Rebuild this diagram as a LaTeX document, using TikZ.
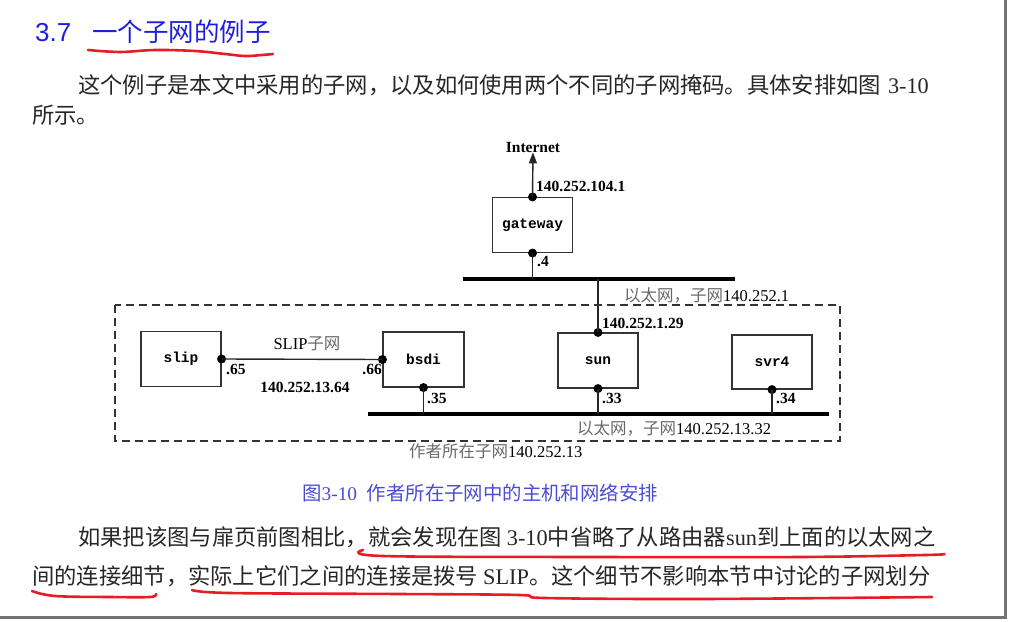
\documentclass[tikz,border=0pt]{standalone}
\usepackage{fontspec}
\setmainfont{Liberation Serif}
\newfontfamily\cjk{Noto Sans CJK SC}
\newfontfamily\hostmono{Liberation Mono}
\newfontfamily\headsans{Liberation Sans}
\usetikzlibrary{arrows.meta}
\definecolor{headblue}{RGB}{30,30,225}
\definecolor{capblue}{RGB}{75,75,215}
\definecolor{markred}{RGB}{232,28,36}
\definecolor{labelgray}{RGB}{105,105,105}
\newcommand\cjkgray[1]{{\cjk\color{labelgray}#1}}
\newcommand\lat[1]{{\rmfamily #1}}
\tikzset{
  hostbox/.style={draw=black!80, line width=1.1pt, minimum width=80pt, minimum height=55pt, inner sep=0pt, font=\hostmono\bfseries\fontsize{14.5}{16}\selectfont},
  port/.style={circle, fill=black, inner sep=0pt, minimum size=9pt},
  wire/.style={line width=1.4pt, draw=black!85},
  ether/.style={line width=3.5pt, draw=black, line cap=butt},
  addr/.style={inner sep=0pt, font=\bfseries\fontsize{15.5}{18}\selectfont},
  netlabel/.style={inner sep=0pt, font=\fontsize{16.5}{19}\selectfont},
  boundary/.style={draw=black!80, line width=1.1pt, dash pattern=on 8pt off 5pt},
  bodytext/.style={inner sep=0pt, anchor=west, text=black!85, font=\cjk\fontsize{22.3}{26}\selectfont},
  marker/.style={draw=markred, line width=2.6pt, line cap=round, line join=round},
  pageedge/.style={draw=black!55, line width=3pt},
}

\begin{document}
\begin{tikzpicture}[x=1pt, y=-1pt]
\useasboundingbox (0,0) rectangle (1009,621);
\node[inner sep=0pt, anchor=west, text=headblue, font=\headsans\fontsize{26}{30}\selectfont] (secnum) at (35,33) {3.7};
\node[inner sep=0pt, anchor=west, text=headblue, font=\cjk\fontsize{25.5}{30}\selectfont] (sectitle) at (92,32) {一个子网的例子};
\draw[marker] plot[smooth, tension=0.6] coordinates {(88,50) (120,52) (155,50) (195,51) (225,54) (245,56) (262,55) (273,54)};
\node[bodytext] (introa) at (78,85) {这个例子是本文中采用的子网，以及如何使用两个不同的子网掩码。具体安排如图\hspace{7pt}\lat{3-10}};
\node[bodytext] (introb) at (32,115) {所示。};
\node[hostbox] (gateway) at (532.5,225) {gateway};
\node[hostbox] (slip) at (181,359) {slip};
\node[hostbox, minimum width=81pt] (bsdi) at (423.5,359.5) {bsdi};
\node[hostbox] (sun) at (598,360.5) {sun};
\node[hostbox, minimum height=54pt] (svr4) at (772,362) {svr4};
\node[port] (gwN) at (gateway.north) {};
\node[port] (gwS) at (gateway.south) {};
\node[port] (slipE) at (slip.east) {};
\node[port] (bsdiW) at (bsdi.west) {};
\node[port] (bsdiS) at (bsdi.south) {};
\node[port] (sunN) at (sun.north) {};
\node[port] (sunS) at (sun.south) {};
\node[port] (svrS) at (svr4.south) {};
\node[addr] (inet) at (533,147) {Internet};
\coordinate (topnetW) at (463,279);
\coordinate (topnetE) at (735,279);
\coordinate (lannetW) at (368,414);
\coordinate (lannetE) at (829,414);
\draw[ether] (topnetW) -- (topnetE);
\draw[ether] (lannetW) -- (lannetE);
\draw[wire, -{Triangle[length=11pt, width=8pt]}] (gwN.center) -- (inet.south);
\draw[wire] (gwS.center) -- (gwS |- topnetW);
\draw[wire] (sunN |- topnetW) -- (sunN.center);
\draw[wire] (slipE.center) -- (bsdiW.center);
\draw[wire] (bsdiS.center) -- (bsdiS |- lannetW);
\draw[wire] (sunS.center) -- (sunS |- lannetW);
\draw[wire] (svrS.center) -- (svrS |- lannetW);
\draw[boundary] (115,305) rectangle (840,441);
\node[addr, anchor=west] (gwaddr) at (536,186) {140.252.104.1};
\node[addr, anchor=west] (gwlan) at (537,262) {.4};
\node[netlabel, anchor=west] (topnet) at (624,295) {\cjkgray{以太网，子网}140.252.1};
\node[addr, anchor=west] (sunaddr) at (602,323) {140.252.1.29};
\node[netlabel] (slipnet) at (307,344) {SLIP\cjkgray{子网}};
\node[addr, anchor=west] (slipaddr) at (226,369) {.65};
\node[addr, anchor=east] (bsdiaddr) at (382,369) {.66};
\node[addr] (slipnum) at (305,387) {140.252.13.64};
\node[addr, anchor=west] (bsdilan) at (427,398) {.35};
\node[addr, anchor=west] (sunlan) at (602,398) {.33};
\node[addr, anchor=west] (svrlan) at (776,398) {.34};
\node[netlabel, anchor=west] (lannet) at (577,428) {\cjkgray{以太网，子网}140.252.13.32};
\node[netlabel, anchor=west] (ownnet) at (409,451) {\cjkgray{作者所在子网}140.252.13};
\node[inner sep=0pt, anchor=west, text=capblue, font=\cjk\fontsize{19.4}{24}\selectfont] (caption) at (302,493) {图\lat{3-10}\enspace 作者所在子网中的主机和网络安排};
\node[bodytext] (notea) at (78,537) {如果把该图与扉页前图相比，就会发现在图 \lat{3-10}中省略了从路由器\lat{sun}到上面的以太网之};
\node[bodytext] (noteb) at (32,576) {间的连接细节，实际上它们之间的连接是拨号 \lat{SLIP}。这个细节不影响本节中讨论的子网划分};
\draw[marker] plot[smooth, tension=0.6] coordinates {(363,550) (383,556) (600,557) (800,557) (925,555) (944,554)};
\draw[marker] plot[smooth, tension=0.6] coordinates {(32,591) (55,596) (110,597) (150,597) (156,594)};
\draw[marker] plot[smooth, tension=0.6] coordinates {(192,590) (230,593) (400,594) (520,595) (545,598) (700,599) (932,597)};
\draw[pageedge] (1005,0) -- (1005,617) -- (0,617);
\end{tikzpicture}
\end{document}
